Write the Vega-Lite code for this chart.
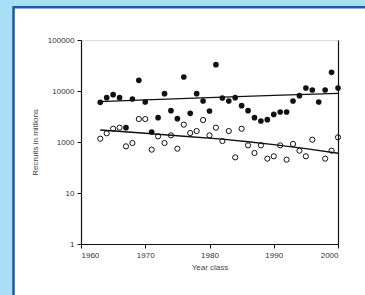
{
  "$schema": "https://vega.github.io/schema/vega-lite/v6.json",
  "width": 257,
  "height": 204,
  "autosize": "none",
  "padding": {"left": 81, "top": 40, "right": 27, "bottom": 51},
  "background": "#a9dff6",
  "config": {"view": {"stroke": null}, "font": "Liberation Sans"},
  "datasets": {
    "filled": [
      {"year": 1963, "recruits": 6000}, {"year": 1964, "recruits": 7400}, {"year": 1965, "recruits": 8470},
      {"year": 1966, "recruits": 7400}, {"year": 1967, "recruits": 1910}, {"year": 1968, "recruits": 6970},
      {"year": 1969, "recruits": 16200}, {"year": 1970, "recruits": 6090}, {"year": 1971, "recruits": 1570},
      {"year": 1972, "recruits": 3000}, {"year": 1973, "recruits": 8870}, {"year": 1974, "recruits": 4110},
      {"year": 1975, "recruits": 2870}, {"year": 1976, "recruits": 18800}, {"year": 1977, "recruits": 3650},
      {"year": 1978, "recruits": 8870}, {"year": 1979, "recruits": 6370}, {"year": 1980, "recruits": 4050},
      {"year": 1981, "recruits": 32800}, {"year": 1982, "recruits": 7290}, {"year": 1983, "recruits": 6370},
      {"year": 1984, "recruits": 7400}, {"year": 1985, "recruits": 5150}, {"year": 1986, "recruits": 4110},
      {"year": 1987, "recruits": 3000}, {"year": 1988, "recruits": 2580}, {"year": 1989, "recruits": 2740},
      {"year": 1990, "recruits": 3480}, {"year": 1991, "recruits": 3870}, {"year": 1992, "recruits": 3870},
      {"year": 1993, "recruits": 6370}, {"year": 1994, "recruits": 8090}, {"year": 1995, "recruits": 11450},
      {"year": 1996, "recruits": 10470}, {"year": 1997, "recruits": 6090}, {"year": 1998, "recruits": 10470},
      {"year": 1999, "recruits": 23250}, {"year": 2000, "recruits": 11450}
    ],
    "open": [
      {"year": 1963, "recruits": 1160}, {"year": 1964, "recruits": 1480}, {"year": 1965, "recruits": 1820},
      {"year": 1966, "recruits": 1910}, {"year": 1967, "recruits": 822}, {"year": 1968, "recruits": 955},
      {"year": 1969, "recruits": 2820}, {"year": 1970, "recruits": 2820}, {"year": 1971, "recruits": 708},
      {"year": 1972, "recruits": 1290}, {"year": 1973, "recruits": 955}, {"year": 1974, "recruits": 1350},
      {"year": 1975, "recruits": 740}, {"year": 1976, "recruits": 2190}, {"year": 1977, "recruits": 1500},
      {"year": 1978, "recruits": 1640}, {"year": 1979, "recruits": 2700}, {"year": 1980, "recruits": 1350},
      {"year": 1981, "recruits": 1910}, {"year": 1982, "recruits": 1045}, {"year": 1983, "recruits": 1640},
      {"year": 1984, "recruits": 500}, {"year": 1985, "recruits": 1820}, {"year": 1986, "recruits": 860},
      {"year": 1987, "recruits": 608}, {"year": 1988, "recruits": 860}, {"year": 1989, "recruits": 471},
      {"year": 1990, "recruits": 524}, {"year": 1991, "recruits": 860}, {"year": 1992, "recruits": 451},
      {"year": 1993, "recruits": 914}, {"year": 1994, "recruits": 676}, {"year": 1995, "recruits": 524},
      {"year": 1996, "recruits": 1110}, {"year": 1998, "recruits": 471}, {"year": 1999, "recruits": 676},
      {"year": 2000, "recruits": 1235}
    ],
    "trend": [
      {"series": "upper", "year": 1963, "recruits": 6200}, {"series": "upper", "year": 1970, "recruits": 6700},
      {"series": "upper", "year": 1981, "recruits": 7500}, {"series": "upper", "year": 1990, "recruits": 8200},
      {"series": "upper", "year": 2000, "recruits": 9000},
      {"series": "lower", "year": 1963, "recruits": 1720}, {"series": "lower", "year": 1970, "recruits": 1480},
      {"series": "lower", "year": 1976, "recruits": 1300}, {"series": "lower", "year": 1982, "recruits": 1140},
      {"series": "lower", "year": 1986, "recruits": 1010}, {"series": "lower", "year": 1990, "recruits": 890},
      {"series": "lower", "year": 1995, "recruits": 740}, {"series": "lower", "year": 2000, "recruits": 600}
    ]
  },
  "resolve": {"axis": {"x": "independent", "y": "independent"}},
  "layer": [
    {
      "data": {"values": [{"panel": "frame"}]},
      "mark": {"type": "rect", "fill": "white", "stroke": "#1b5ca6", "strokeWidth": 2.5, "clip": false},
      "encoding": {
        "x": {"datum": 1949.5, "type": "quantitative", "axis": null, "scale": {"domain": [1960, 2000], "nice": false, "zero": false}},
        "x2": {"datum": 2006},
        "y": {"datum": 437500, "type": "quantitative", "axis": null, "scale": {"type": "log", "domain": [10, 100000], "nice": false}},
        "y2": {"datum": 0.7}
      }
    },
    {
      "data": {"name": "trend"},
      "mark": {"type": "line", "color": "#111", "strokeWidth": 1.4},
      "encoding": {
        "x": {"field": "year", "type": "quantitative", "axis": {"orient": "top", "labels": false, "ticks": false, "title": null, "domainColor": "#c8c8c8", "domainWidth": 0.7, "grid": false, "zindex": 1}},
        "y": {"field": "recruits", "type": "quantitative", "axis": {"orient": "right", "labels": false, "ticks": false, "title": null, "domainColor": "#111", "domainWidth": 1.2, "grid": false, "zindex": 1}},
        "detail": {"field": "series"}
      }
    },
    {
      "data": {"name": "open"},
      "mark": {"type": "point", "shape": "circle", "filled": false, "stroke": "#111", "strokeWidth": 1, "size": 27, "opacity": 1},
      "encoding": {
        "x": {"field": "year", "type": "quantitative", "axis": {"orient": "bottom", "values": [1960, 1970, 1980, 1990, 2000], "format": "d", "title": "Year class", "grid": false, "domainColor": "#111", "domainWidth": 1.2, "tickColor": "#111", "tickSize": 4, "labelFontSize": 8, "labelColor": "#333", "labelPadding": 3, "titleFontSize": 8, "titleFontWeight": "normal", "titleColor": "#444", "titlePadding": 4, "zindex": 1}},
        "y": {"field": "recruits", "type": "quantitative", "axis": {"orient": "left", "values": [10, 100, 1000, 10000, 100000], "labelExpr": "datum.value == 10 ? '1' : datum.value == 100 ? '10' : format(datum.value, 'd')", "title": "Recruits in millions", "grid": false, "domainColor": "#111", "domainWidth": 1.2, "tickColor": "#111", "tickSize": 4, "labelFontSize": 8, "labelColor": "#333", "labelPadding": 3, "titleFontSize": 8, "titleFontWeight": "normal", "titleColor": "#444", "titlePadding": 8, "zindex": 1}}
      }
    },
    {
      "data": {"name": "filled"},
      "mark": {"type": "point", "shape": "circle", "filled": true, "color": "#111", "size": 32, "opacity": 1},
      "encoding": {
        "x": {"field": "year", "type": "quantitative", "axis": null},
        "y": {"field": "recruits", "type": "quantitative", "axis": null}
      }
    }
  ]
}
